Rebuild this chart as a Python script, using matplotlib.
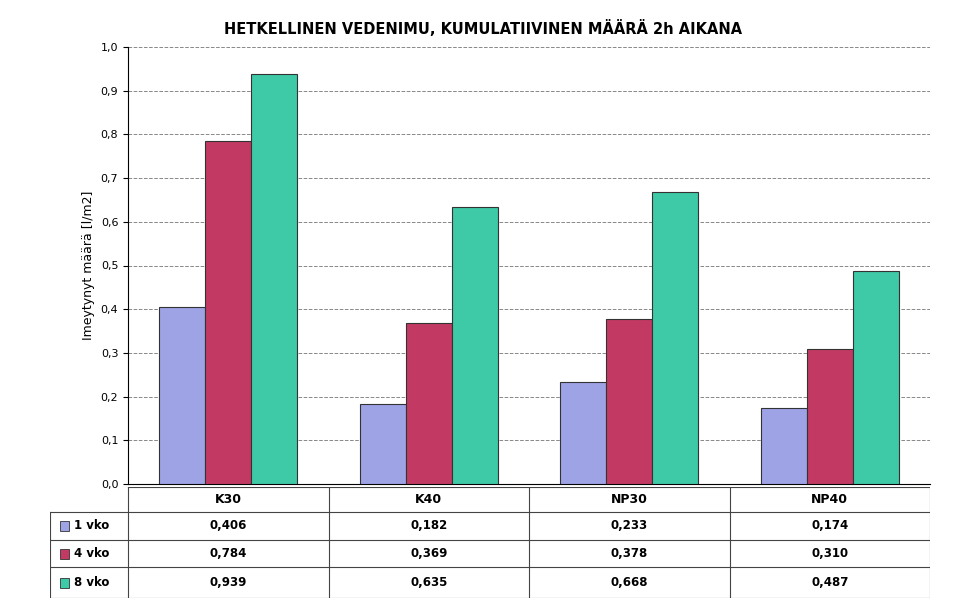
import numpy as np
import matplotlib
matplotlib.use('Agg')
import matplotlib.pyplot as plt
from matplotlib.patches import Rectangle

categories = ['K30', 'K40', 'NP30', 'NP40']
series = ['1 vko', '4 vko', '8 vko']
vko1 = [0.406, 0.182, 0.233, 0.174]
vko4 = [0.784, 0.369, 0.378, 0.310]
vko8 = [0.939, 0.635, 0.668, 0.487]
colors = ['#9ea3e6', '#c23a63', '#3ec9a7']

fig = plt.figure(figsize=(9.66, 6.14), dpi=100)
ax = fig.add_axes([128/966, 1-484/614, 802/966, 437/614])

x = np.arange(len(categories))
w = 0.23
for i, vals in enumerate([vko1, vko4, vko8]):
    ax.bar(x + (i-1)*w, vals, w, color=colors[i], edgecolor='#333333', linewidth=0.8, zorder=3)

ax.set_xlim(-0.5, 3.5)
ax.set_ylim(0, 1.0)
yt = np.arange(0, 1.01, 0.1)
ax.set_yticks(yt)
ax.set_yticklabels([f'{v:.1f}'.replace('.', ',') for v in yt], fontsize=8)
ax.set_xticks([])
ax.grid(axis='y', linestyle='--', color='#888888', linewidth=0.7, zorder=0)
for s in ['top', 'right']:
    ax.spines[s].set_visible(False)
ax.set_ylabel('Imeytynyt määrä [l/m2]', fontsize=9)
fig.text(0.5, 1-28/614, 'HETKELLINEN VEDENIMU, KUMULATIIVINEN MÄÄRÄ 2h AIKANA',
         ha='center', va='center', fontsize=10.5, fontweight='bold')

# data table
tax = fig.add_axes([50/966, 1-598/614, 880/966, 111/614])
tax.set_xlim(-78/200, 4)
tax.set_ylim(0, 4)
tax.invert_yaxis()
tax.axis('off')
lw = 0.8
rows_y = [0, 0.9, 1.9, 2.9, 4]
for y in rows_y:
    tax.plot([-78/200 if y > 0 else 0, 4], [y, y], color='#444444', lw=lw)
for xc in range(5):
    tax.plot([xc, xc], [0, 4], color='#444444', lw=lw)
tax.plot([-78/200, -78/200], [0.9, 4], color='#444444', lw=lw)
for j, c in enumerate(categories):
    tax.text(j+0.5, 0.45, c, ha='center', va='center', fontsize=9, fontweight='bold')
for i, (name, vals) in enumerate(zip(series, [vko1, vko4, vko8])):
    yc = (rows_y[i+1] + rows_y[i+2]) / 2
    tax.add_patch(Rectangle((-0.34, yc-0.18), 0.045, 0.36, facecolor=colors[i], edgecolor='#333333', lw=0.6))
    tax.text(-0.27, yc, name, va='center', fontsize=8.5, fontweight='bold')
    for j, v in enumerate(vals):
        tax.text(j+0.5, yc, f'{v:.3f}'.replace('.', ','), ha='center', va='center', fontsize=8.5, fontweight='bold')

fig.savefig('out.png', dpi=100)
